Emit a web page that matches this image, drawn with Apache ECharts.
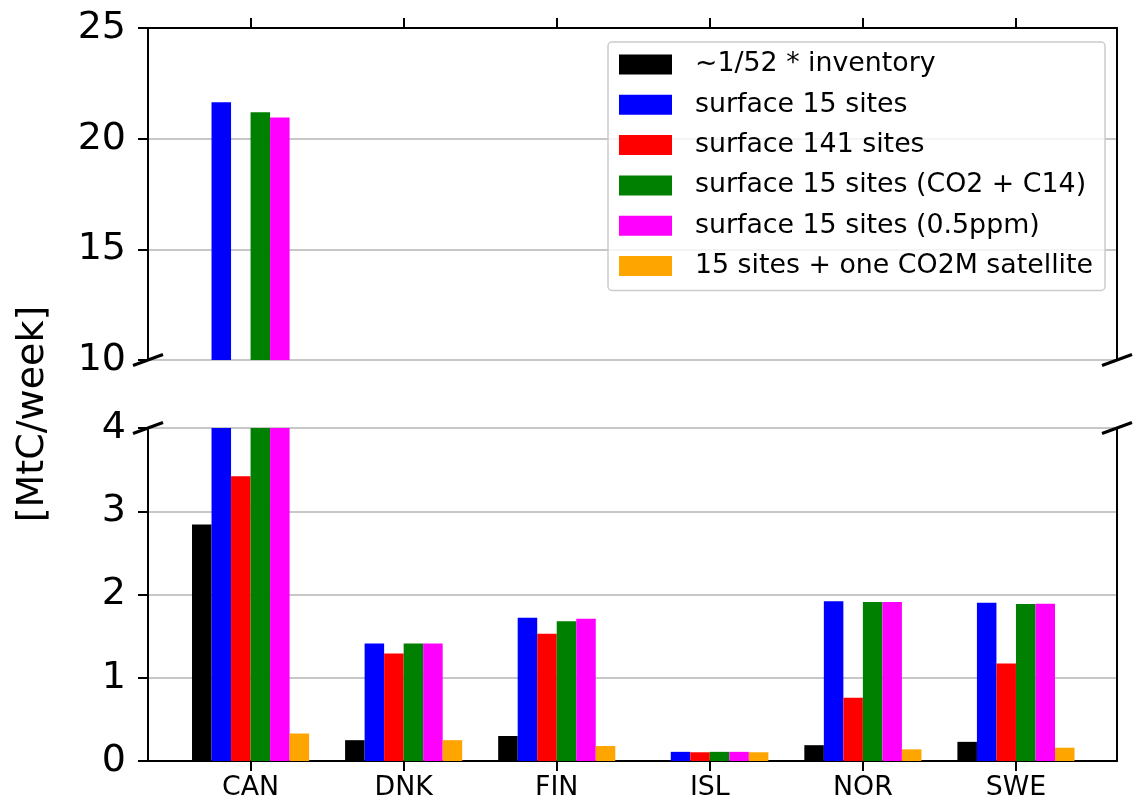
<!DOCTYPE html>
<html>
<head>
<meta charset="utf-8">
<script src="https://cdn.jsdelivr.net/npm/echarts@6/dist/echarts.min.js"></script>
<style>
  html, body { margin: 0; padding: 0; background: #fff; }
  #chart { width: 1137px; height: 803px; }
</style>
</head>
<body>
<div id="chart"></div>
<script>
// Weekly fossil CO2 flux per country, MtC/week
const categories = ['CAN', 'DNK', 'FIN', 'ISL', 'NOR', 'SWE'];
const seriesNames = [
  '~1/52 * inventory',
  'surface 15 sites',
  'surface 141 sites',
  'surface 15 sites (CO2 + C14)',
  'surface 15 sites (0.5ppm)',
  '15 sites + one CO2M satellite'
];
const inventory  = [2.84, 0.25, 0.30, 0.01, 0.19, 0.23];
const surface15  = [21.64, 1.41, 1.72, 0.11, 1.92, 1.90];
const surface141 = [3.42, 1.29, 1.53, 0.105, 0.76, 1.17];
const co2c14     = [21.19, 1.41, 1.68, 0.11, 1.91, 1.885];
const halfPpm    = [20.96, 1.41, 1.71, 0.11, 1.91, 1.89];
const satellite  = [0.33, 0.25, 0.18, 0.105, 0.14, 0.16];
const upperTicks = [10, 15, 20, 25];
const lowerTicks = [0, 1, 2, 3, 4];

const seriesValues = [inventory, surface15, surface141, co2c14, halfPpm, satellite];
const colors = ['#000000', '#0000ff', '#ff0000', '#008000', '#ff00ff', '#ffa500'];

const FONT = 'DejaVu Sans';
const X_MIN = -0.67, X_MAX = 5.66;
const catIdx = categories.map((c, i) => i);

const chart = echarts.init(document.getElementById('chart'), null, { renderer: 'canvas' });

function xAxisCfg(gridIndex, position, showLabels) {
  return {
    type: 'value', gridIndex, position, min: X_MIN, max: X_MAX,
    axisLine: { show: true, onZero: false, lineStyle: { color: '#000', width: 2 } },
    axisTick: { show: true, inside: false, length: 10, customValues: catIdx,
                lineStyle: { color: '#000', width: 2 } },
    axisLabel: { show: showLabels, customValues: catIdx, margin: 14,
                 fontFamily: FONT, fontSize: 26.8, color: '#000',
                 formatter: v => categories[Math.round(v)] || '' },
    splitLine: { show: false }
  };
}

function yAxisCfg(gridIndex, ticks, interval) {
  return {
    type: 'value', gridIndex, position: 'left',
    min: ticks[0], max: ticks[ticks.length - 1], interval,
    axisLine: { show: true, onZero: false, lineStyle: { color: '#000', width: 2 } },
    axisTick: { show: true, inside: false, length: 10, lineStyle: { color: '#000', width: 2 } },
    axisLabel: { margin: 22, fontFamily: FONT, fontSize: 38, color: '#000' },
    splitLine: { show: true, lineStyle: { color: '#b4b4b4', width: 1.6 } }
  };
}

function rightSpine(gridIndex, ticks) {
  return {
    type: 'value', gridIndex, position: 'right',
    min: ticks[0], max: ticks[ticks.length - 1],
    axisLine: { show: true, onZero: false, lineStyle: { color: '#000', width: 2 } },
    axisTick: { show: false }, axisLabel: { show: false }, splitLine: { show: false }
  };
}

const series = [];
[0, 1].forEach(panel => {
  seriesValues.forEach((vals, s) => {
    series.push({
      type: 'bar',
      name: seriesNames[s],
      xAxisIndex: panel, yAxisIndex: panel,
      data: vals.map((v, i) => [i, v]),
      barWidth: '12.75%',
      barGap: '0%',
      clip: true,
      itemStyle: { color: colors[s] },
      emphasis: { disabled: true }
    });
  });
});

chart.setOption({
  animation: false,
  color: colors,
  grid: [
    { left: 148, right: 20, top: 28, height: 332 },
    { left: 148, right: 20, top: 428, height: 333 }
  ],
  xAxis: [xAxisCfg(0, 'top', false), xAxisCfg(1, 'bottom', true)],
  yAxis: [
    yAxisCfg(0, upperTicks, 5),
    yAxisCfg(1, lowerTicks, 1),
    rightSpine(0, upperTicks),
    rightSpine(1, lowerTicks)
  ],
  legend: {
    data: seriesNames,
    orient: 'vertical',
    left: 608, top: 42,
    padding: [9, 12, 11, 11],
    itemWidth: 53, itemHeight: 20, itemGap: 13.3,
    icon: 'rect',
    backgroundColor: 'rgba(255,255,255,0.8)',
    borderColor: '#cccccc', borderWidth: 1.5, borderRadius: 4,
    textStyle: { fontFamily: FONT, fontSize: 26.8, color: '#000',
                 lineHeight: 27, padding: [0, 0, 0, 18] },
    selectedMode: false
  },
  series
});

// Diagonal break marks where the two panels are cut
function breakMark(pt) {
  return {
    type: 'line', z: 100,
    shape: { x1: pt[0] - 15, y1: pt[1] + 5.5, x2: pt[0] + 15, y2: pt[1] - 5.5 },
    style: { stroke: '#000', lineWidth: 3 }
  };
}
const corners = [
  chart.convertToPixel({ xAxisIndex: 0, yAxisIndex: 0 }, [X_MIN, upperTicks[0]]),
  chart.convertToPixel({ xAxisIndex: 0, yAxisIndex: 0 }, [X_MAX, upperTicks[0]]),
  chart.convertToPixel({ xAxisIndex: 1, yAxisIndex: 1 }, [X_MIN, lowerTicks[lowerTicks.length - 1]]),
  chart.convertToPixel({ xAxisIndex: 1, yAxisIndex: 1 }, [X_MAX, lowerTicks[lowerTicks.length - 1]])
];

chart.setOption({
  graphic: [
    ...corners.map(breakMark),
    {
      type: 'text', z: 100,
      x: 33, y: 414, rotation: Math.PI / 2,
      style: { text: '[MtC/week]', fontFamily: FONT, fontSize: 38, fill: '#000',
               textAlign: 'center', textVerticalAlign: 'middle' }
    }
  ]
});
</script>
</body>
</html>
